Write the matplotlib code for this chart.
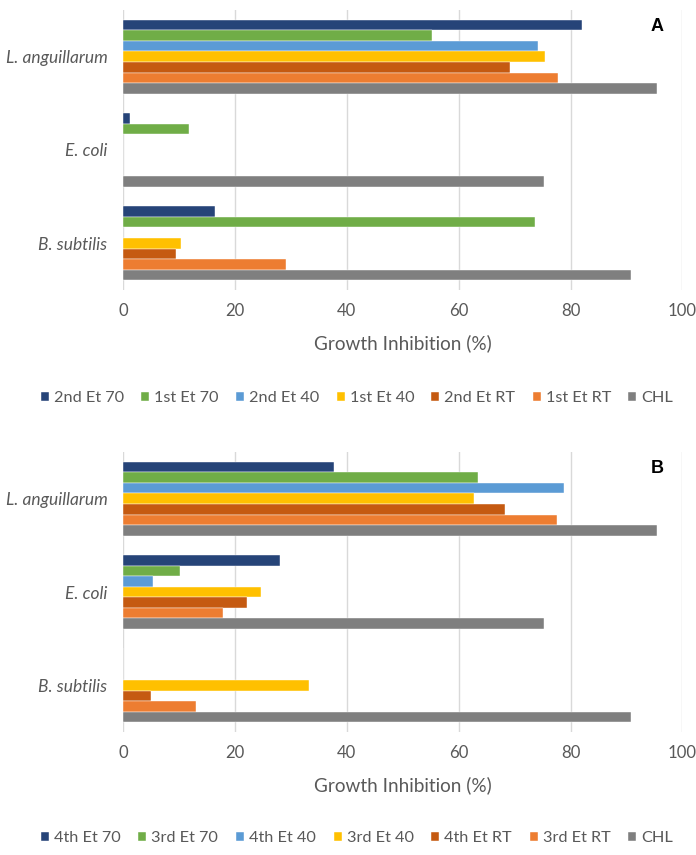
import matplotlib
matplotlib.use("Agg")
import matplotlib.pyplot as plt
import numpy as np

plt.rcParams['font.family'] = ['Lato', 'DejaVu Sans']

categories = ["L. anguillarum", "E. coli", "B. subtilis"]
colors = ["#264478", "#70AD47", "#5B9BD5", "#FFC000", "#C55A11", "#ED7D31", "#7F7F7F"]

series_A = ["2nd Et 70", "1st Et 70", "2nd Et 40", "1st Et 40", "2nd Et RT", "1st Et RT", "CHL"]
values_A = {
    "2nd Et 70": [82.0, 1.2, 16.4],
    "1st Et 70": [55.2, 11.8, 73.6],
    "2nd Et 40": [74.2, 0.0, 0.0],
    "1st Et 40": [75.4, 0.0, 10.3],
    "2nd Et RT": [69.1, 0.0, 9.5],
    "1st Et RT": [77.7, 0.0, 29.1],
    "CHL":       [95.5, 75.3, 90.9],
}

series_B = ["4th Et 70", "3rd Et 70", "4th Et 40", "3rd Et 40", "4th Et RT", "3rd Et RT", "CHL"]
values_B = {
    "4th Et 70": [37.7, 28.1, 0.0],
    "3rd Et 70": [63.4, 10.2, 0.0],
    "4th Et 40": [78.8, 5.3, 0.0],
    "3rd Et 40": [62.8, 24.7, 33.2],
    "4th Et RT": [68.2, 22.2, 4.9],
    "3rd Et RT": [77.5, 17.8, 13.0],
    "CHL":       [95.5, 75.3, 90.9],
}

xticks = [0, 20, 40, 60, 80, 100]

W, H = 696, 855
DPI = 100
fig = plt.figure(figsize=(W / DPI, H / DPI), dpi=DPI)
renderer = fig.canvas.get_renderer()

text_color = "#595959"
PT = 72.0 / DPI  # points per pixel


def text_width(text, size, **kw):
    t = fig.text(0, 0, text, fontsize=size, **kw)
    w = t.get_window_extent(renderer).width
    t.remove()
    return w


def fit_size(text, target_px, **kw):
    return 10.0 * target_px / text_width(text, 10, **kw)


fs_tick = fit_size("100", 29)
fs_cat = fit_size("L. anguillarum", 102, fontstyle="italic")
fs_xlab = fit_size("Growth Inhibition (%)", 178)
fs_leg = fit_size("2nd Et 70", 70)
leg_px = fs_leg / PT


def panel(top_px, series, values, letter, legend_y_px):
    left_px, right_px = 123.3, 682.3
    bottom_px = top_px + 280
    ax = fig.add_axes([left_px / W, 1 - bottom_px / H, (right_px - left_px) / W, 280 / H])
    n = len(series)
    group = 0.793
    h = group / n
    ypos = np.array([2, 1, 0], dtype=float)
    handles = []
    for i, s in enumerate(series):
        off = (n - 1) / 2 - i
        b = ax.barh(ypos + off * h, values[s], height=h, color=colors[i],
                    edgecolor="white", linewidth=0.3, label=s, zorder=3)
        handles.append(b)
    ax.set_xlim(0, 100)
    ax.set_ylim(-0.5, 2.5)
    ax.set_xticks(xticks)
    ax.set_xticklabels([str(t) for t in xticks])
    ax.set_yticks(ypos)
    ax.set_yticklabels(categories, fontstyle="italic", fontsize=fs_cat)
    ax.tick_params(axis="both", length=0, colors=text_color)
    ax.tick_params(axis="x", pad=13 * PT / PT * 0 + 13 * 1.0 * (PT * DPI / 72) * 0.72, labelsize=fs_tick)
    ax.tick_params(axis="y", pad=16 * PT)
    for sp in ax.spines.values():
        sp.set_visible(False)
    ax.grid(axis="x", color="#D9D9D9", linewidth=1.0, zorder=0)
    ax.set_xlabel("Growth Inhibition (%)", fontsize=fs_xlab, color=text_color)
    ax.xaxis.label.set_va("center")
    ax.xaxis.set_label_coords(0.5, -53 / 280)
    ax.text(0.955, 0.94, letter, transform=ax.transAxes, ha="center", va="center",
            fontsize=13, fontweight="bold", family="Liberation Sans", color="black")
    # legend: total width about 632 px (from x=41 to x=673)
    handle_px, pad_px = 8.0, 5.0
    sum_w = sum(text_width(s, fs_leg) for s in series)
    cs_px = (632 - sum_w - n * (handle_px + pad_px)) / (n - 1)
    fig.legend(handles=handles, labels=series, loc="center",
               bbox_to_anchor=(357 / W, 1 - legend_y_px / H), ncol=n, frameon=False,
               fontsize=fs_leg, handlelength=handle_px / leg_px, handleheight=handle_px / leg_px,
               handletextpad=pad_px / leg_px, columnspacing=max(cs_px, 2) / leg_px,
               borderpad=0, borderaxespad=0, labelcolor=text_color)


panel(10, series_A, values_A, "A", 398)
panel(452, series_B, values_B, "B", 838)

fig.savefig("out.png", dpi=DPI)
